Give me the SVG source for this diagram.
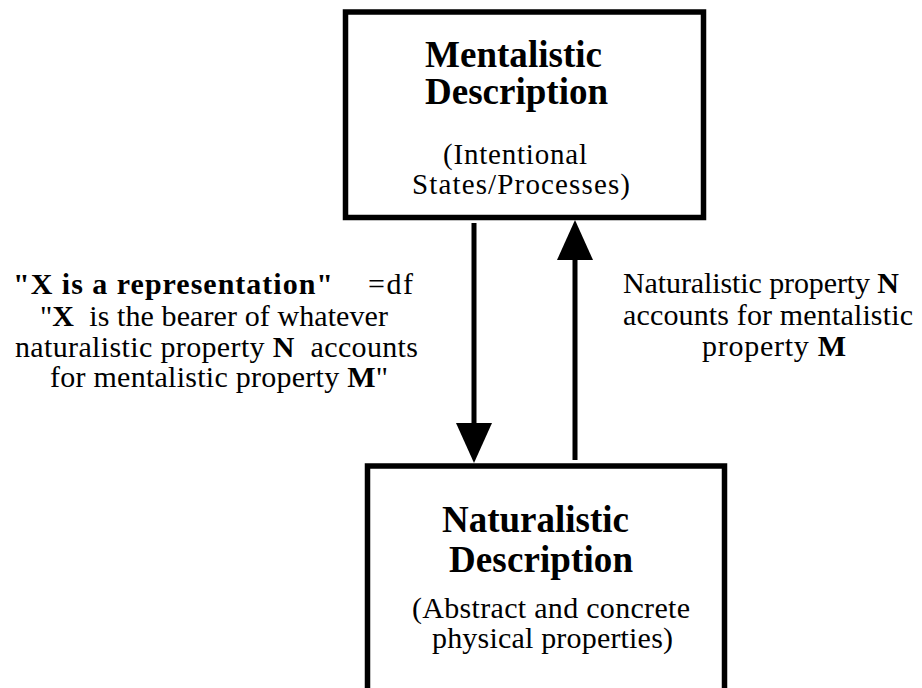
<svg xmlns="http://www.w3.org/2000/svg" width="922" height="688" viewBox="0 0 922 688">
<style>
.box{fill:#fff;stroke:#000;stroke-width:5.5}
.t{font-family:"Liberation Serif","Times New Roman",serif;fill:#000}
.h{font-size:37px;font-weight:bold}
.r{font-size:30px}
.s{font-size:29px}
.b{font-weight:bold}
.shaft{stroke:#000;stroke-width:5;fill:none}
.head{fill:#000}
</style>
<rect width="922" height="688" fill="#fff"/>
<g id="mentalistic">
<rect class="box" x="345.5" y="12" width="358" height="205.5"/>
<text class="t h" x="425" y="67" textLength="177" lengthAdjust="spacing">Mentalistic</text>
<text class="t h" x="425" y="104" textLength="183" lengthAdjust="spacing">Description</text>
<text class="t s" x="443" y="164" textLength="144" lengthAdjust="spacing">(Intentional</text>
<text class="t s" x="412" y="194" textLength="218" lengthAdjust="spacing">States/Processes)</text>
</g>
<g id="naturalistic">
<rect class="box" x="367.5" y="466" width="357" height="260"/>
<text class="t h" x="442" y="532" textLength="187" lengthAdjust="spacing">Naturalistic</text>
<text class="t h" x="449" y="572" textLength="184" lengthAdjust="spacing">Description</text>
<text class="t r" x="412" y="618" textLength="278" lengthAdjust="spacing">(Abstract and concrete</text>
<text class="t r" x="432" y="648" textLength="241" lengthAdjust="spacing">physical properties)</text>
</g>
<g id="connectors">
<line class="shaft" x1="474" y1="223" x2="474" y2="425"/>
<polygon class="head" points="456,423 492,423 474,463"/>
<line class="shaft" x1="575" y1="460" x2="575" y2="258"/>
<polygon class="head" points="557,260 593,260 575,220"/>
</g>
<g id="label-definition">
<text class="t r b" x="13" y="294" textLength="320" lengthAdjust="spacing">"X is a representation"</text>
<text class="t r" x="368" y="294" textLength="45" lengthAdjust="spacing">=df</text>
<text class="t r" x="40" y="326" textLength="348" lengthAdjust="spacing" xml:space="preserve">"<tspan class="b">X</tspan>  is the bearer of whatever</text>
<text class="t r" x="15" y="357" textLength="403" lengthAdjust="spacing" xml:space="preserve">naturalistic property <tspan class="b">N</tspan>  accounts</text>
<text class="t r" x="50" y="387" textLength="338" lengthAdjust="spacing">for mentalistic property <tspan class="b">M</tspan>"</text>
</g>
<g id="label-accounts">
<text class="t r" x="623" y="293" textLength="276" lengthAdjust="spacing">Naturalistic property <tspan class="b">N</tspan></text>
<text class="t r" x="623" y="325" textLength="290" lengthAdjust="spacing">accounts for mentalistic</text>
<text class="t r" x="702" y="356" textLength="144" lengthAdjust="spacing">property <tspan class="b">M</tspan></text>
</g>
</svg>
